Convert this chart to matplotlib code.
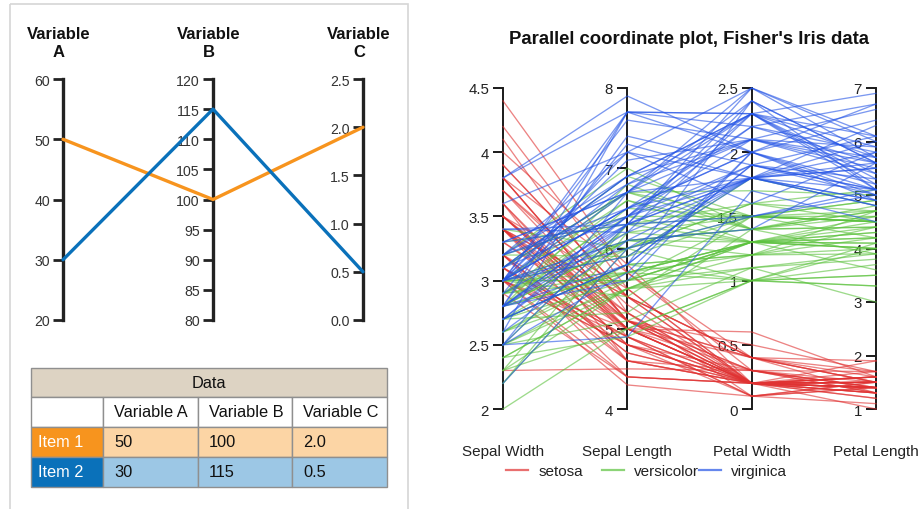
import matplotlib
matplotlib.use('Agg')
import matplotlib.pyplot as plt
from matplotlib.patches import Rectangle
from matplotlib.lines import Line2D
from matplotlib.ticker import FormatStrFormatter, FuncFormatter

plt.rcParams['font.family'] = ['Liberation Sans', 'DejaVu Sans']

# ---------------- data: left example ----------------
left_titles = ['Variable\nA', 'Variable\nB', 'Variable\nC']
left_headers = ['Variable A', 'Variable B', 'Variable C']
left_ranges = [(20, 60), (80, 120), (0.0, 2.5)]
left_ticks_A = [20, 30, 40, 50, 60]
left_ticks_B = [80, 85, 90, 95, 100, 105, 110, 115, 120]
left_ticks_C = [0.0, 0.5, 1.0, 1.5, 2.0, 2.5]
left_formats = ['%d', '%d', '%.1f']
items = ['Item 1', 'Item 2']
item1_values = [50, 100, 2.0]
item2_values = [30, 115, 0.5]

# ---------------- data: Fisher's Iris ----------------
sepal_length = [
    5.1, 4.9, 4.7, 4.6, 5.0, 5.4, 4.6, 5.0, 4.4, 4.9,
    5.4, 4.8, 4.8, 4.3, 5.8, 5.7, 5.4, 5.1, 5.7, 5.1,
    5.4, 5.1, 4.6, 5.1, 4.8, 5.0, 5.0, 5.2, 5.2, 4.7,
    4.8, 5.4, 5.2, 5.5, 4.9, 5.0, 5.5, 4.9, 4.4, 5.1,
    5.0, 4.5, 4.4, 5.0, 5.1, 4.8, 5.1, 4.6, 5.3, 5.0,
    7.0, 6.4, 6.9, 5.5, 6.5, 5.7, 6.3, 4.9, 6.6, 5.2,
    5.0, 5.9, 6.0, 6.1, 5.6, 6.7, 5.6, 5.8, 6.2, 5.6,
    5.9, 6.1, 6.3, 6.1, 6.4, 6.6, 6.8, 6.7, 6.0, 5.7,
    5.5, 5.5, 5.8, 6.0, 5.4, 6.0, 6.7, 6.3, 5.6, 5.5,
    5.5, 6.1, 5.8, 5.0, 5.6, 5.7, 5.7, 6.2, 5.1, 5.7,
    6.3, 5.8, 7.1, 6.3, 6.5, 7.6, 4.9, 7.3, 6.7, 7.2,
    6.5, 6.4, 6.8, 5.7, 5.8, 6.4, 6.5, 7.7, 7.7, 6.0,
    6.9, 5.6, 7.7, 6.3, 6.7, 7.2, 6.2, 6.1, 6.4, 7.2,
    7.4, 7.9, 6.4, 6.3, 6.1, 7.7, 6.3, 6.4, 6.0, 6.9,
    6.7, 6.9, 5.8, 6.8, 6.7, 6.7, 6.3, 6.5, 6.2, 5.9]
sepal_width = [
    3.5, 3.0, 3.2, 3.1, 3.6, 3.9, 3.4, 3.4, 2.9, 3.1,
    3.7, 3.4, 3.0, 3.0, 4.0, 4.4, 3.9, 3.5, 3.8, 3.8,
    3.4, 3.7, 3.6, 3.3, 3.4, 3.0, 3.4, 3.5, 3.4, 3.2,
    3.1, 3.4, 4.1, 4.2, 3.1, 3.2, 3.5, 3.6, 3.0, 3.4,
    3.5, 2.3, 3.2, 3.5, 3.8, 3.0, 3.8, 3.2, 3.7, 3.3,
    3.2, 3.2, 3.1, 2.3, 2.8, 2.8, 3.3, 2.4, 2.9, 2.7,
    2.0, 3.0, 2.2, 2.9, 2.9, 3.1, 3.0, 2.7, 2.2, 2.5,
    3.2, 2.8, 2.5, 2.8, 2.9, 3.0, 2.8, 3.0, 2.9, 2.6,
    2.4, 2.4, 2.7, 2.7, 3.0, 3.4, 3.1, 2.3, 3.0, 2.5,
    2.6, 3.0, 2.6, 2.3, 2.7, 3.0, 2.9, 2.9, 2.5, 2.8,
    3.3, 2.7, 3.0, 2.9, 3.0, 3.0, 2.5, 2.9, 2.5, 3.6,
    3.2, 2.7, 3.0, 2.5, 2.8, 3.2, 3.0, 3.8, 2.6, 2.2,
    3.2, 2.8, 2.8, 2.7, 3.3, 3.2, 2.8, 3.0, 2.8, 3.0,
    2.8, 3.8, 2.8, 2.8, 2.6, 3.0, 3.4, 3.1, 3.0, 3.1,
    3.1, 3.1, 2.7, 3.2, 3.3, 3.0, 2.5, 3.0, 3.4, 3.0]
petal_length = [
    1.4, 1.4, 1.3, 1.5, 1.4, 1.7, 1.4, 1.5, 1.4, 1.5,
    1.5, 1.6, 1.4, 1.1, 1.2, 1.5, 1.3, 1.4, 1.7, 1.5,
    1.7, 1.5, 1.0, 1.7, 1.9, 1.6, 1.6, 1.5, 1.4, 1.6,
    1.6, 1.5, 1.5, 1.4, 1.5, 1.2, 1.3, 1.4, 1.3, 1.5,
    1.3, 1.3, 1.3, 1.6, 1.9, 1.4, 1.6, 1.4, 1.5, 1.4,
    4.7, 4.5, 4.9, 4.0, 4.6, 4.5, 4.7, 3.3, 4.6, 3.9,
    3.5, 4.2, 4.0, 4.7, 3.6, 4.4, 4.5, 4.1, 4.5, 3.9,
    4.8, 4.0, 4.9, 4.7, 4.3, 4.4, 4.8, 5.0, 4.5, 3.5,
    3.8, 3.7, 3.9, 5.1, 4.5, 4.5, 4.7, 4.4, 4.1, 4.0,
    4.4, 4.6, 4.0, 3.3, 4.2, 4.2, 4.2, 4.3, 3.0, 4.1,
    6.0, 5.1, 5.9, 5.6, 5.8, 6.6, 4.5, 6.3, 5.8, 6.1,
    5.1, 5.3, 5.5, 5.0, 5.1, 5.3, 5.5, 6.7, 6.9, 5.0,
    5.7, 4.9, 6.7, 4.9, 5.7, 6.0, 4.8, 4.9, 5.6, 5.8,
    6.1, 6.4, 5.6, 5.1, 5.6, 6.1, 5.6, 5.5, 4.8, 5.4,
    5.6, 5.1, 5.1, 5.9, 5.7, 5.2, 5.0, 5.2, 5.4, 5.1]
petal_width = [
    0.2, 0.2, 0.2, 0.2, 0.2, 0.4, 0.3, 0.2, 0.2, 0.1,
    0.2, 0.2, 0.1, 0.1, 0.2, 0.4, 0.4, 0.3, 0.3, 0.3,
    0.2, 0.4, 0.2, 0.5, 0.2, 0.2, 0.4, 0.2, 0.2, 0.2,
    0.2, 0.4, 0.1, 0.2, 0.2, 0.2, 0.2, 0.1, 0.2, 0.2,
    0.3, 0.3, 0.2, 0.6, 0.4, 0.3, 0.2, 0.2, 0.2, 0.2,
    1.4, 1.5, 1.5, 1.3, 1.5, 1.3, 1.6, 1.0, 1.3, 1.4,
    1.0, 1.5, 1.0, 1.4, 1.3, 1.4, 1.5, 1.0, 1.5, 1.1,
    1.8, 1.3, 1.5, 1.2, 1.3, 1.4, 1.4, 1.7, 1.5, 1.0,
    1.1, 1.0, 1.2, 1.6, 1.5, 1.6, 1.5, 1.3, 1.3, 1.3,
    1.2, 1.4, 1.2, 1.0, 1.3, 1.2, 1.3, 1.3, 1.1, 1.3,
    2.5, 1.9, 2.1, 1.8, 2.2, 2.1, 1.7, 1.8, 1.8, 2.5,
    2.0, 1.9, 2.1, 2.0, 2.4, 2.3, 1.8, 2.2, 2.3, 1.5,
    2.3, 2.0, 2.0, 1.8, 2.1, 1.8, 1.8, 1.8, 2.1, 1.6,
    1.9, 2.0, 2.2, 1.5, 1.4, 2.3, 2.4, 1.8, 1.8, 2.1,
    2.4, 2.3, 1.9, 2.3, 2.5, 2.3, 1.9, 2.0, 2.3, 1.8]
species = ['setosa'] * 50 + ['versicolor'] * 50 + ['virginica'] * 50
species_names = ['setosa', 'versicolor', 'virginica']
iris_vars = ['Sepal Width', 'Sepal Length', 'Petal Width', 'Petal Length']
iris_ranges = [(2, 4.5), (4, 8), (0, 2.5), (1, 7)]
iris_ticks_sw = [2, 2.5, 3, 3.5, 4, 4.5]
iris_ticks_sl = [4, 5, 6, 7, 8]
iris_ticks_pw = [0, 0.5, 1, 1.5, 2, 2.5]
iris_ticks_pl = [1, 2, 3, 4, 5, 6, 7]

# ---------------- styling ----------------
W, H = 923, 510
item_colors = ['#F7941E', '#0A71BA']
item_light = ['#FCD5A5', '#9CC7E5']
species_colors = {'setosa': '#E03232', 'versicolor': '#5CC23E', 'virginica': '#2454E6'}

fig = plt.figure(figsize=(W / 100, H / 100), dpi=100)


def px_axes(x0, y0, x1, y1, **kw):
    return fig.add_axes([x0 / W, 1 - y1 / H, (x1 - x0) / W, (y1 - y0) / H], **kw)


# overlay axes in pixel coordinates (border + table)
bg = px_axes(0, 0, W, H, zorder=0)
bg.set_xlim(0, W)
bg.set_ylim(H, 0)
bg.axis('off')
bg.add_patch(Rectangle((10, 5), 398, 520, fill=False, edgecolor='#D6D6D6', lw=1.2, clip_on=False))

# ---------------- left parallel example ----------------
lx = [63, 213, 363]
ltop, lbot = 80, 321
left_ticks = [left_ticks_A, left_ticks_B, left_ticks_C]
for i in range(3):
    a = px_axes(lx[i], ltop, lx[i] + 1, lbot, zorder=1)
    a.set_facecolor('none')
    for s in ['top', 'right', 'bottom']:
        a.spines[s].set_visible(False)
    a.spines['left'].set_linewidth(2.4)
    a.spines['left'].set_color('#222222')
    a.set_xticks([])
    a.set_ylim(*left_ranges[i])
    a.set_yticks(left_ticks[i])
    a.yaxis.set_major_formatter(FormatStrFormatter(left_formats[i]))
    a.tick_params(axis='y', direction='out', length=7.5, width=2.0, color='#222222',
                  labelsize=10.2, labelcolor='#333333', pad=2)
    fig.text((lx[i] - 4) / W, 1 - 43.5 / H, left_titles[i], ha='center', va='center',
             fontsize=12, fontweight='bold', linespacing=1.3, color='#111111')

lines_ax = px_axes(lx[0], ltop, lx[2], lbot, zorder=2)
lines_ax.set_xlim(0, 2)
lines_ax.set_ylim(0, 1)
lines_ax.axis('off')
lines_ax.patch.set_alpha(0)
for vals, col in zip([item1_values, item2_values], item_colors):
    norm = [(v - lo) / (hi - lo) for v, (lo, hi) in zip(vals, left_ranges)]
    lines_ax.plot(range(3), norm, color=col, lw=2.4, clip_on=False, solid_capstyle='round')

# ---------------- table ----------------
cx = [31, 103, 198, 292, 387]
ry = [369, 398, 428, 458, 488]
edge = '#8F8F8F'
fs_tab = 11.8
bg.add_patch(Rectangle((cx[0], ry[0]), cx[-1] - cx[0], ry[1] - ry[0], facecolor='#DDD3C3', edgecolor=edge, lw=1, zorder=3))
bg.text((cx[0] + cx[-1]) / 2, (ry[0] + ry[1]) / 2, 'Data', ha='center', va='center', fontsize=fs_tab, color='#111111', zorder=4)
for j in range(4):
    bg.add_patch(Rectangle((cx[j], ry[1]), cx[j + 1] - cx[j], ry[2] - ry[1], facecolor='white', edgecolor=edge, lw=1, zorder=3))
for j, hname in enumerate(left_headers):
    bg.text(cx[j + 1] + 11, (ry[1] + ry[2]) / 2, hname, ha='left', va='center', fontsize=fs_tab, color='#111111', zorder=4)
for r, (name, vals) in enumerate(zip(items, [item1_values, item2_values])):
    y0, y1 = ry[2 + r], ry[3 + r]
    bg.add_patch(Rectangle((cx[0], y0), cx[1] - cx[0], y1 - y0, facecolor=item_colors[r], edgecolor=edge, lw=1, zorder=3))
    bg.text(cx[0] + 7, (y0 + y1) / 2, name, ha='left', va='center', fontsize=fs_tab, color='white', zorder=4)
    for j, v in enumerate(vals):
        bg.add_patch(Rectangle((cx[j + 1], y0), cx[j + 2] - cx[j + 1], y1 - y0, facecolor=item_light[r], edgecolor=edge, lw=1, zorder=3))
        bg.text(cx[j + 1] + 11, (y0 + y1) / 2, left_formats[j] % v, ha='left', va='center', fontsize=fs_tab, color='#111111', zorder=4)

# ---------------- right: Iris parallel coordinates ----------------
rx = [503, 627, 752, 876]
rtop, rbot = 89, 410
iris_ticks = [iris_ticks_sw, iris_ticks_sl, iris_ticks_pw, iris_ticks_pl]
for i in range(4):
    a = px_axes(rx[i], rtop, rx[i] + 1, rbot, zorder=1)
    a.set_facecolor('none')
    for s in ['top', 'right', 'bottom']:
        a.spines[s].set_visible(False)
    a.spines['left'].set_linewidth(1.4)
    a.spines['left'].set_color('#1A1A1A')
    a.set_xticks([])
    a.set_ylim(*iris_ranges[i])
    a.set_yticks(iris_ticks[i])
    a.yaxis.set_major_formatter(FuncFormatter(lambda v, p: '%g' % v))
    a.tick_params(axis='y', direction='out', length=7, width=1.4, color='#1A1A1A',
                  labelsize=10.8, labelcolor='#222222', pad=3)
    fig.text(rx[i] / W, 1 - 452 / H, iris_vars[i], ha='center', va='center', fontsize=11, color='#222222')

fig.text(689 / W, 1 - 40 / H, "Parallel coordinate plot, Fisher's Iris data", ha='center', va='center',
         fontsize=13.3, fontweight='bold', color='#111111')

iris_ax = px_axes(rx[0], rtop, rx[3], rbot, zorder=2)
iris_ax.set_xlim(0, 3)
iris_ax.set_ylim(0, 1)
iris_ax.axis('off')
iris_ax.patch.set_alpha(0)
cols = [sepal_width, sepal_length, petal_width, petal_length]
for k in range(len(species)):
    vals = [c[k] for c in cols]
    norm = [(v - lo) / (hi - lo) for v, (lo, hi) in zip(vals, iris_ranges)]
    iris_ax.plot(range(4), norm, color=species_colors[species[k]], lw=0.95, alpha=0.6, clip_on=False)

# legend (three entries, R-style spacing)
leg_x = [506, 602, 699]
for name, x in zip(species_names, leg_x):
    h = Line2D([], [], color=species_colors[name], lw=1.6, alpha=0.7)
    fig.legend(handles=[h], labels=[name], loc='center left', bbox_to_anchor=(x / W, 1 - 472 / H),
               frameon=False, fontsize=11, handlelength=1.45, handletextpad=0.65,
               borderpad=0, borderaxespad=0, labelcolor='#222222')

fig.savefig('out.png', dpi=100)
